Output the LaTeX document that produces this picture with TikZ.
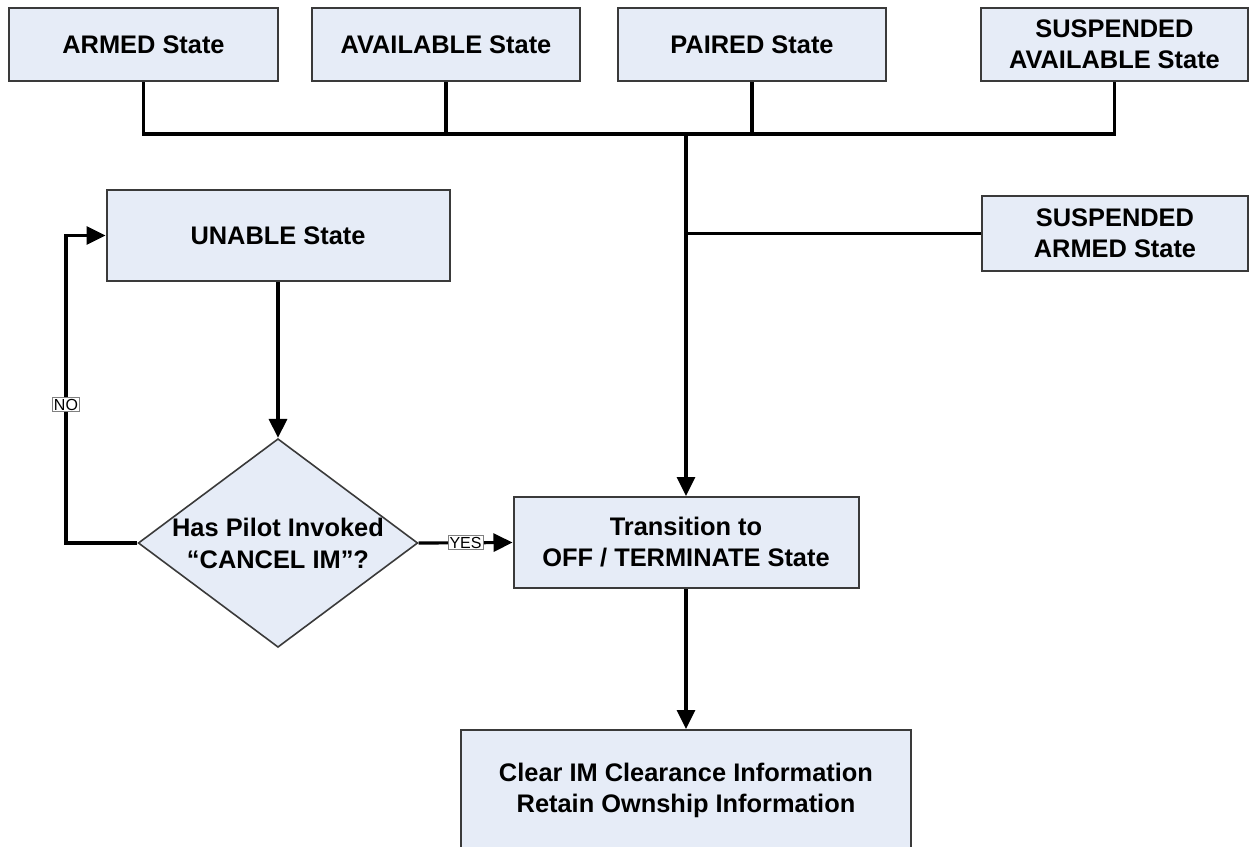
\documentclass[tikz,border=0pt]{standalone}
\usepackage{fontspec}
\setmainfont{Liberation Sans}
\usetikzlibrary{shapes.geometric,arrows.meta}
\definecolor{boxfill}{HTML}{E6ECF7}
\definecolor{boxline}{HTML}{3A3A3A}
\tikzset{
  statebox/.style={draw=boxline, line width=1pt, fill=boxfill, inner sep=0pt,
    align=center, font=\bfseries\fontsize{12.7}{15.5}\selectfont},
  decision/.style={diamond, draw=boxline, line width=0.8pt, fill=boxfill, inner sep=0pt,
    align=center, font=\bfseries\fontsize{12.7}{16}\selectfont},
  link/.style={line width=1.6pt, black},
  flow/.style={link, -{Triangle[length=9.5pt,width=9pt]}},
  tag/.style={draw=gray, line width=0.4pt, fill=white, inner sep=0.7pt,
    font=\fontsize{8}{9}\selectfont}
}
\begin{document}
\begin{tikzpicture}[x=0.5pt, y=-0.5pt]
  \useasboundingbox (0,0) rectangle (1250,847);
  \clip (0,0) rectangle (1250,847);

  % top row of states
  \node[statebox, minimum width=134.5pt, minimum height=36.5pt] (armed)  at (143.5,44.5) {ARMED State};
  \node[statebox, minimum width=134pt,   minimum height=36.5pt] (avail)  at (446,44.5)   {AVAILABLE State};
  \node[statebox, minimum width=134pt,   minimum height=36.5pt] (paired) at (752,44.5)   {PAIRED State};
  \node[statebox, minimum width=133.5pt, minimum height=36.5pt] (savail) at (1114.5,44.5) {SUSPENDED\\AVAILABLE State};

  % right-hand suspended state
  \node[statebox, minimum width=133pt, minimum height=37.5pt] (sarmed) at (1115,233.5) {SUSPENDED\\ARMED State};

  % left branch
  \node[statebox, minimum width=171.5pt, minimum height=45.5pt] (unable) at (278,235.5) {UNABLE State};
  \node[decision, minimum width=137.5pt, minimum height=102.5pt, aspect=1.34] (dia) at (278,543)
    {Has Pilot Invoked\\“CANCEL IM”?};

  % termination
  \node[statebox, minimum width=172.5pt, minimum height=45.5pt] (trans) at (686,542.5)
    {Transition to\\OFF / TERMINATE State};
  \node[statebox, minimum width=225pt, minimum height=60pt] (clear) at (686,790)
    {Clear IM Clearance Information\\Retain Ownship Information};

  % collecting bus from the top row
  \coordinate (bus) at (686,134);
  \draw[link] (armed.south) |- (bus);
  \draw[link] (savail.south) |- (bus);
  \draw[link] (avail.south) -- (avail.south |- bus);
  \draw[link] (paired.south) -- (paired.south |- bus);
  \draw[link] (sarmed.west) -- (sarmed.west -| bus);
  \draw[flow] (bus) -- (trans.north);

  % decision loop
  \draw[flow] (unable.south) -- (dia.north);
  \draw[flow] (dia.east) -- node[tag, pos=0.5]{YES} (trans.west);
  \coordinate (noc) at (66,543);
  \draw[flow] (dia.west) -- (noc) -- node[tag, pos=0.45]{NO} (noc |- unable.west) -- (unable.west);

  \draw[flow] (trans.south) -- (clear.north);
\end{tikzpicture}
\end{document}
